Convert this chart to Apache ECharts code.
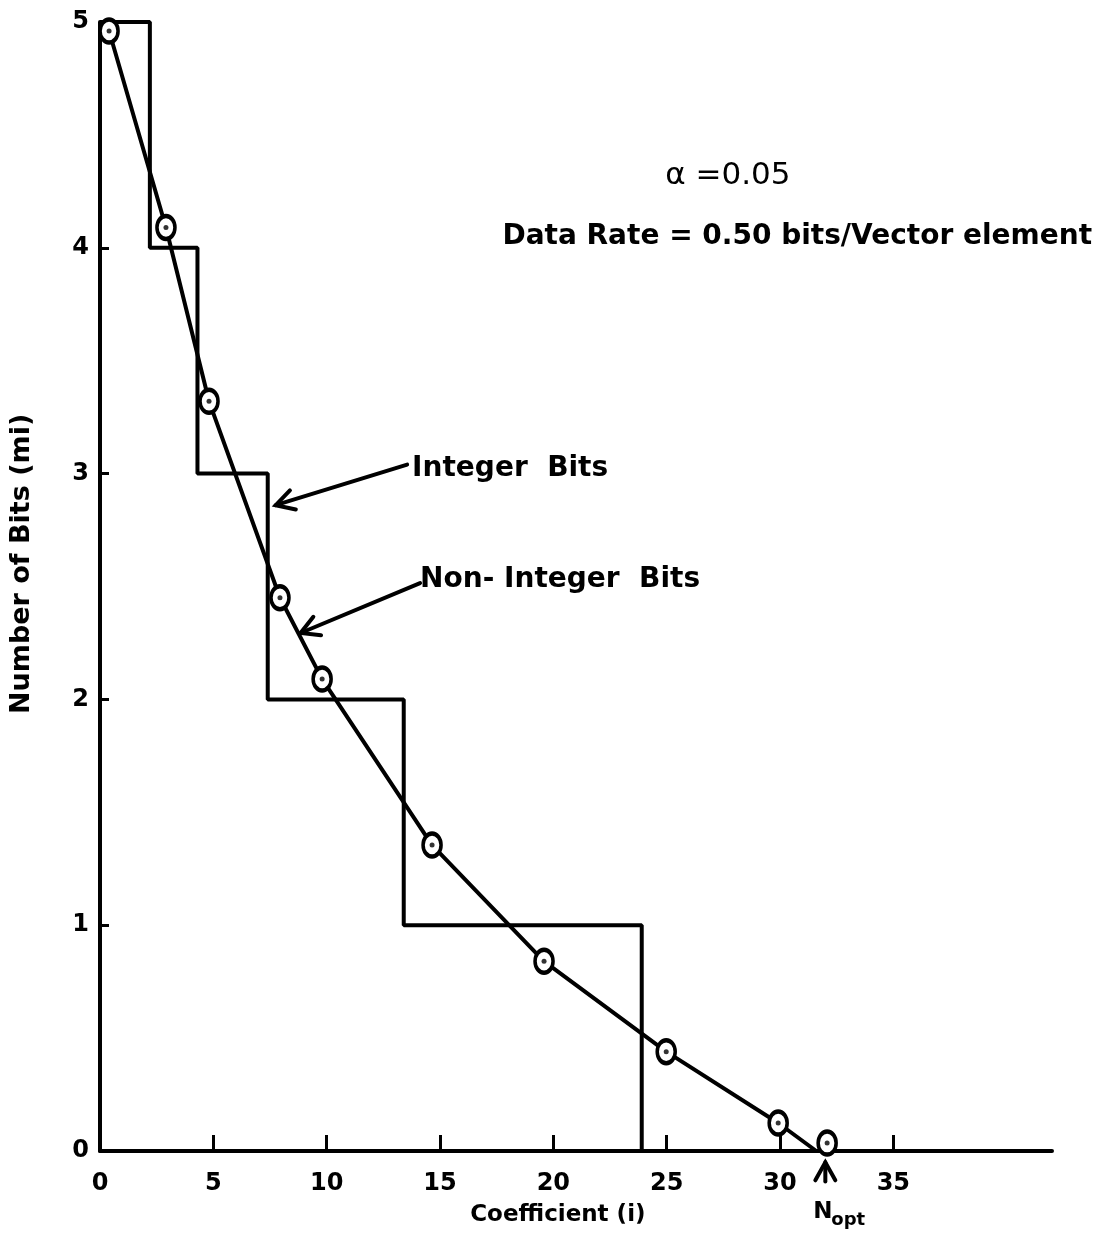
<!DOCTYPE html>
<html><head><meta charset="utf-8">
<script src="https://cdn.jsdelivr.net/npm/echarts@6/dist/echarts.min.js"></script>
<style>html,body{margin:0;padding:0;background:#fff}#c{width:1109px;height:1239px}</style>
</head><body><div id="c"></div>
<script>
// ---- data ----
const xTickLabels = [0, 5, 10, 15, 20, 25, 30, 35];
const xTickMarks = [5, 10, 15, 20, 25, 30, 35];
const yTickLabels = [0, 1, 2, 3, 4, 5];
const yTickMarks = [1, 2, 3, 4];
// integer bits: step starts at these coefficients with these levels
const intEdges = [0, 2.2, 4.3, 7.4, 13.4, 23.9];
const intBits  = [5, 4, 3, 2, 1, 0];
// non-integer bits (circled points)
const nonIntX = [0.40, 2.91, 4.81, 7.94, 9.80, 14.65, 19.59, 24.98, 29.92, 32.08];
const nonIntY = [4.96, 4.09, 3.32, 2.45, 2.09, 1.355, 0.84, 0.44, 0.124, 0.035];
const lineEnd = [31.6, 0];   // where the curve meets the axis
const nOpt = 32.0;

const FONT = 'DejaVu Sans';
const stepData = intEdges.map((x, i) => [x, intBits[i]]);
const ptData = nonIntX.map((x, i) => [x, nonIntY[i]]);
const curveData = ptData.slice(0, ptData.length - 1).concat([lineEnd]);
const ellipse = 'path://M0,10 A8,10 0 1,1 16,10 A8,10 0 1,1 0,10 Z';

const chart = echarts.init(document.getElementById('c'));
chart.setOption({
  backgroundColor: '#fff',
  animation: false,
  grid: { left: 100, right: 57, top: 22, bottom: 88 },
  xAxis: {
    type: 'value', min: 0, max: 42, interval: 5,
    splitLine: { show: false },
    axisLine: { lineStyle: { color: '#000', width: 4 } },
    axisTick: { inside: true, length: 16, customValues: xTickMarks, lineStyle: { color: '#000', width: 3 } },
    axisLabel: { customValues: xTickLabels, color: '#000', fontFamily: FONT, fontWeight: 'bold', fontSize: 24, margin: 21 }
  },
  yAxis: {
    type: 'value', min: 0, max: 5, interval: 1,
    splitLine: { show: false },
    axisLine: { show: true, lineStyle: { color: '#000', width: 4 } },
    axisTick: { show: true, inside: true, length: 9, customValues: yTickMarks, lineStyle: { color: '#000', width: 3 } },
    axisLabel: { customValues: yTickLabels, color: '#000', fontFamily: FONT, fontWeight: 'bold', fontSize: 24, margin: 11 }
  },
  series: [
    { name: 'Integer Bits', type: 'line', step: 'end', data: stepData, showSymbol: false, symbol: 'none',
      lineStyle: { color: '#000', width: 4 }, z: 2 },
    { name: 'Non-Integer Bits', type: 'line', data: curveData, showSymbol: false, symbol: 'none',
      lineStyle: { color: '#000', width: 4 }, z: 3 },
    { type: 'scatter', data: ptData, symbol: ellipse, symbolSize: [18, 23],
      itemStyle: { color: '#fff', borderColor: '#000', borderWidth: 4, opacity: 1 }, z: 4 },
    { type: 'scatter', data: ptData, symbol: 'circle', symbolSize: 5,
      itemStyle: { color: '#000' }, z: 5 }
  ]
});

function px(x, y) { return chart.convertToPixel({ gridIndex: 0 }, [x, y]); }
function txt(p, s, o) {
  return Object.assign({ type: 'text', x: p[0], y: p[1], z: 10,
    style: Object.assign({ text: s, fill: '#000', fontFamily: FONT, fontWeight: 'bold', fontSize: 28,
      textAlign: 'left', textVerticalAlign: 'middle' }, o || {}) });
}
function arrow(s, t) {
  const S = px(s[0], s[1]), T = px(t[0], t[1]);
  const dx = T[0] - S[0], dy = T[1] - S[1], L = Math.hypot(dx, dy);
  const ux = dx / L, uy = dy / L, nx = -uy, ny = ux, hl = 18, hw = 10;
  return [
    { type: 'line', z: 10, shape: { x1: S[0], y1: S[1], x2: T[0], y2: T[1] }, style: { stroke: '#000', lineWidth: 4, lineCap: 'round' } },
    { type: 'polyline', z: 10, shape: { points: [[T[0] - ux * hl + nx * hw, T[1] - uy * hl + ny * hw], T, [T[0] - ux * hl - nx * hw, T[1] - uy * hl - ny * hw]] },
      style: { stroke: '#000', lineWidth: 4, lineCap: 'round', lineJoin: 'miter', fill: null } }
  ];
}

const g = [];
g.push(txt(px(27.7, 4.32), 'α =0.05', { textAlign: 'center', fontSize: 31, fontWeight: 'normal' }));
g.push(txt(px(30.76, 4.05), 'Data Rate = 0.50 bits/Vector element', { textAlign: 'center' }));
g.push(txt(px(13.77, 3.02), 'Integer  Bits'));
g.push(txt(px(14.12, 2.53), 'Non- Integer  Bits'));
g.push(...arrow([13.55, 3.04], [7.75, 2.86]));
g.push(...arrow([14.12, 2.515], [8.85, 2.294]));
g.push(txt(px(20.2, -0.283), 'Coefficient (i)', { textAlign: 'center', fontSize: 23 }));
// N_opt
const pn = px(nOpt, -0.27);
g.push(txt([pn[0] - 12, pn[1]], 'N', { fontSize: 23 }));
g.push(txt([pn[0] + 6, pn[1] + 8], 'opt', { fontSize: 18 }));
g.push(...arrow([nOpt, -0.135], [nOpt, -0.05]));
// y axis name
const py = px(-3.44, 2.6);
g.push({ type: 'text', x: py[0], y: py[1], rotation: Math.PI / 2, z: 10,
  style: { text: 'Number of Bits (mi)', fill: '#000', fontFamily: FONT, fontWeight: 'bold', fontSize: 27, textAlign: 'center', textVerticalAlign: 'middle' } });
chart.setOption({ graphic: g });
</script>
</body></html>
